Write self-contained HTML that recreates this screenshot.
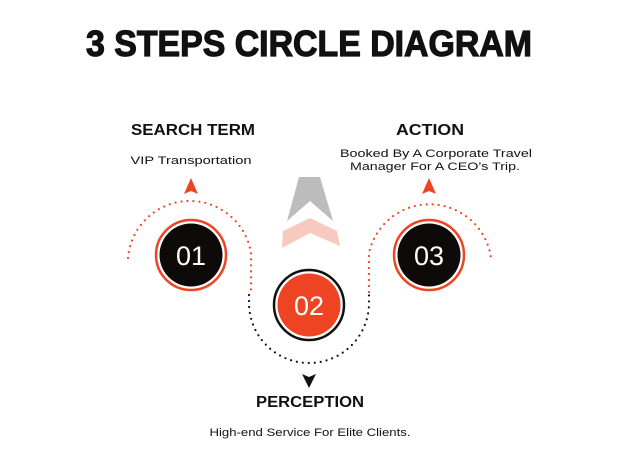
<!DOCTYPE html>
<html><head><meta charset="utf-8"><style>
html,body{margin:0;padding:0;background:#fff;}
svg{display:block}
.h{font-family:"Liberation Sans",sans-serif;font-weight:bold;fill:#111}
.s{font-family:"Liberation Sans",sans-serif;fill:#111;font-size:11px}
.n{font-family:"Liberation Sans",sans-serif;fill:#fff;font-size:27px}
</style></head><body>
<svg width="624" height="468" viewBox="0 0 624 468">
<text class="h" x="309" y="56" text-anchor="middle" font-size="36" textLength="446" lengthAdjust="spacingAndGlyphs" stroke="#111" stroke-width="1.2">3 STEPS CIRCLE DIAGRAM</text>
<text class="h" x="193" y="135" text-anchor="middle" font-size="16" textLength="124" lengthAdjust="spacingAndGlyphs">SEARCH TERM</text>
<text class="h" x="430" y="135" text-anchor="middle" font-size="16" textLength="68" lengthAdjust="spacingAndGlyphs">ACTION</text>
<text class="h" x="310" y="407" text-anchor="middle" font-size="16" textLength="108" lengthAdjust="spacingAndGlyphs">PERCEPTION</text>
<text class="s" x="191" y="164" text-anchor="middle" textLength="121" lengthAdjust="spacingAndGlyphs">VIP Transportation</text>
<text class="s" x="436" y="157" text-anchor="middle" textLength="192" lengthAdjust="spacingAndGlyphs">Booked By A Corporate Travel</text>
<text class="s" x="435" y="170" text-anchor="middle" textLength="170" lengthAdjust="spacingAndGlyphs">Manager For A CEO’s Trip.</text>
<text class="s" x="310" y="436" text-anchor="middle" textLength="201" lengthAdjust="spacingAndGlyphs">High-end Service For Elite Clients.</text>
<path d="M128 258 A62 62 0 0 1 251 253 L251 292" fill="none" stroke="#ee4423" stroke-width="2.2" stroke-linecap="round" stroke-dasharray="0 6"/>
<path d="M249 295 L249 303 A60 60 0 0 0 369 303 L369 295" fill="none" stroke="#111" stroke-width="2.2" stroke-linecap="round" stroke-dasharray="0 6"/>
<path d="M369 292 L369 253 A62 62 0 0 1 491 258" fill="none" stroke="#ee4423" stroke-width="2.2" stroke-linecap="round" stroke-dasharray="0 6"/>
<polygon points="191,178 198,194 191,191 184,194" fill="#ee4423"/>
<polygon points="429,178 436,194 429,191 422,194" fill="#ee4423"/>
<polygon points="309,388 316,374 309,377 302,374" fill="#111"/>
<polygon points="299,177 320,177 333,221 310,201 287,221" fill="#bdbcbc"/>
<polygon points="283,231 310,218 337,231 340,246 310,233 282,248" fill="#f8c9be"/>
<circle cx="191" cy="255" r="35" fill="#fff" stroke="#ee4423" stroke-width="2.5"/>
<circle cx="191" cy="255" r="31.5" fill="#0e0a0a"/>
<text class="n" x="191" y="265" text-anchor="middle">01</text>
<circle cx="429" cy="255" r="35" fill="#fff" stroke="#ee4423" stroke-width="2.5"/>
<circle cx="429" cy="255" r="31.5" fill="#0e0a0a"/>
<text class="n" x="429" y="265" text-anchor="middle">03</text>
<circle cx="309" cy="305" r="35" fill="#fff" stroke="#111" stroke-width="2.5"/>
<circle cx="309" cy="305" r="31.5" fill="#ee4423"/>
<text class="n" x="309" y="315" text-anchor="middle">02</text>
</svg>
</body></html>
